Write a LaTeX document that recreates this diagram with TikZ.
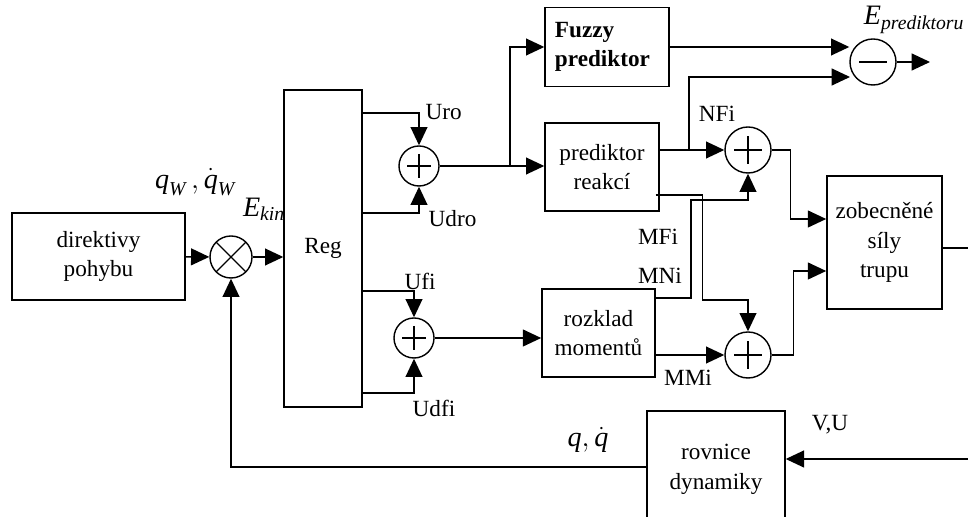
\documentclass[tikz,border=0pt]{standalone}
\usepackage{amsmath}
\usepackage{fontspec}
\setmainfont{Liberation Serif}
\usetikzlibrary{positioning,arrows.meta,calc}
\newcommand\tit[1]{\text{\itshape #1}}

\begin{document}
\begin{tikzpicture}[
    x=0.025cm, y=-0.025cm,
    line width=1pt,
    font=\fontsize{16.5}{21}\selectfont,
    block/.style={rectangle, draw, align=center, inner sep=0pt},
    sum/.style={circle, draw, minimum size=#1, inner sep=0pt,
        path picture={
            \draw ($(path picture bounding box.center)!0.6!(path picture bounding box.north)$)
               -- ($(path picture bounding box.center)!0.6!(path picture bounding box.south)$)
                  ($(path picture bounding box.center)!0.6!(path picture bounding box.west)$)
               -- ($(path picture bounding box.center)!0.6!(path picture bounding box.east)$);}},
    minusnode/.style={circle, draw, minimum size=#1, inner sep=0pt,
        path picture={
            \draw ($(path picture bounding box.center)!0.6!(path picture bounding box.west)$)
               -- ($(path picture bounding box.center)!0.6!(path picture bounding box.east)$);}},
    mult/.style={circle, draw, minimum size=1.05cm, inner sep=0pt,
        path picture={
            \draw (path picture bounding box.north west) -- (path picture bounding box.south east)
                  (path picture bounding box.north east) -- (path picture bounding box.south west);}},
    arrow/.style={-{Triangle[length=13pt, width=12pt]}},
    lbl/.style={inner sep=0pt},
    mathlbl/.style={inner sep=0pt, font=\fontsize{20}{24}\selectfont}
]
\useasboundingbox (0,0) rectangle (968,517);

% Blocks
\node[block, minimum width=4.33cm, minimum height=2.18cm] (dir) at (98.5,256.5) {direktivy\\pohybu};
\node[mult] (mul) at (231,257) {};
\node[block, minimum width=1.95cm, minimum height=7.93cm] (reg) at (323,248.5) {Reg};
\node[sum=1cm] (s1) at (419,166) {};
\node[sum=1cm] (s4) at (414,338) {};
\node[block, minimum width=3.1cm, minimum height=1.98cm, text width=2.6cm, align=left,
    font=\fontsize{16.5}{21}\selectfont\bfseries] (fuzzy) at (607,47) {Fuzzy\\prediktor};
\node[block, minimum width=2.85cm, minimum height=2.2cm] (pred) at (602,167) {prediktor\\reakcí};
\node[block, minimum width=2.83cm, minimum height=2.2cm] (rozk) at (598.5,333) {rozklad\\momentů};
\node[sum=1.15cm] (s2) at (748,150) {};
\node[sum=1.15cm] (s3) at (748,355) {};
\node[minusnode=1.15cm] (minus) at (873,62) {};
\node[block, minimum width=2.88cm, minimum height=3.33cm] (zob) at (884.5,242.5) {zobecněné\\síly\\trupu};
\node[block, minimum width=3.45cm, minimum height=2.93cm] (rov) at (716,469.5) {rovnice\\dynamiky};

% Free ends
\coordinate (uro) at (362,113);
\coordinate (udro) at (362,213);
\coordinate (ufi) at (362,291);
\coordinate (udfi) at (362,393);
\coordinate (br1) at (510,166);
\coordinate (br2) at (689,150);
\coordinate (minin) at (850,77);
\coordinate (minout) at (930,62);
\coordinate (zobout) at (968,248);
\coordinate (rovin) at (968,459);

% Arrows
\draw[arrow] (dir) -- (mul);
\draw[arrow] (mul) -- (mul -| reg.west);
\draw[arrow] (uro) -| (s1);
\draw[arrow] (udro) -| (s1);
\draw[arrow] (ufi) -| (s4);
\draw[arrow] (udfi) -| (s4);
\draw[arrow] (s1) -- (s1 -| pred.west);
\draw[arrow] (br1) |- (fuzzy);
\draw[arrow] (fuzzy) -- (fuzzy -| minus.west);
\draw[arrow] (br2) |- (minin);
\draw[arrow] (minus) -- (minout);
\draw[arrow] (pred.east |- s2) -- (s2);
\draw[arrow] (s2.east) -- ++(19,0) |- ($(zob.west)+(0,-23.5)$);
\draw[arrow] (s3.east) -- ++(22,0) |- ($(zob.west)+(0,28.5)$);
\draw[arrow] (rozk.east |- 0,298) -| ++(35,-98) -| (s2);
\draw[arrow] ($(pred.east |- 0,195)+(-4,0)$) -| ++(47,105) -| (s3);
\draw[arrow] (rozk.east |- s3) -- (s3);
\draw[arrow] (s4) -- (s4 -| rozk.west);
\draw (zob.east |- zobout) -- (zobout);
\draw[arrow] (rovin) -- (rovin -| rov.east);
\draw[arrow] (rov.west |- 0,467) -| (mul);

% Labels
\node[mathlbl] (lqw) at (195,182) {$\tit{q}_{\tit{W}}\,,\dot{\tit{q}}_{\tit{W}}$};
\node[mathlbl] (lekin) at (264,209) {$\tit{E}_{\tit{kin}}$};
\node[mathlbl] (lepred) at (914,20) {$\tit{E}_{\tit{prediktoru}}$};
\node[mathlbl] (lq) at (588,440) {$\tit{q},\dot{\tit{q}}$};
\node[lbl, anchor=west] (luro) at (425,112) {Uro};
\node[lbl, anchor=west] (ludro) at (428,219) {Udro};
\node[lbl] (lufi) at (420,281) {Ufi};
\node[lbl] (ludfi) at (434,408) {Udfi};
\node[lbl] (lnfi) at (717,114) {NFi};
\node[lbl] (lmfi) at (658,237) {MFi};
\node[lbl] (lmni) at (660,276) {MNi};
\node[lbl] (lmmi) at (688,378) {MMi};
\node[lbl] (lvu) at (830,425) {V,U};
\end{tikzpicture}
\end{document}
